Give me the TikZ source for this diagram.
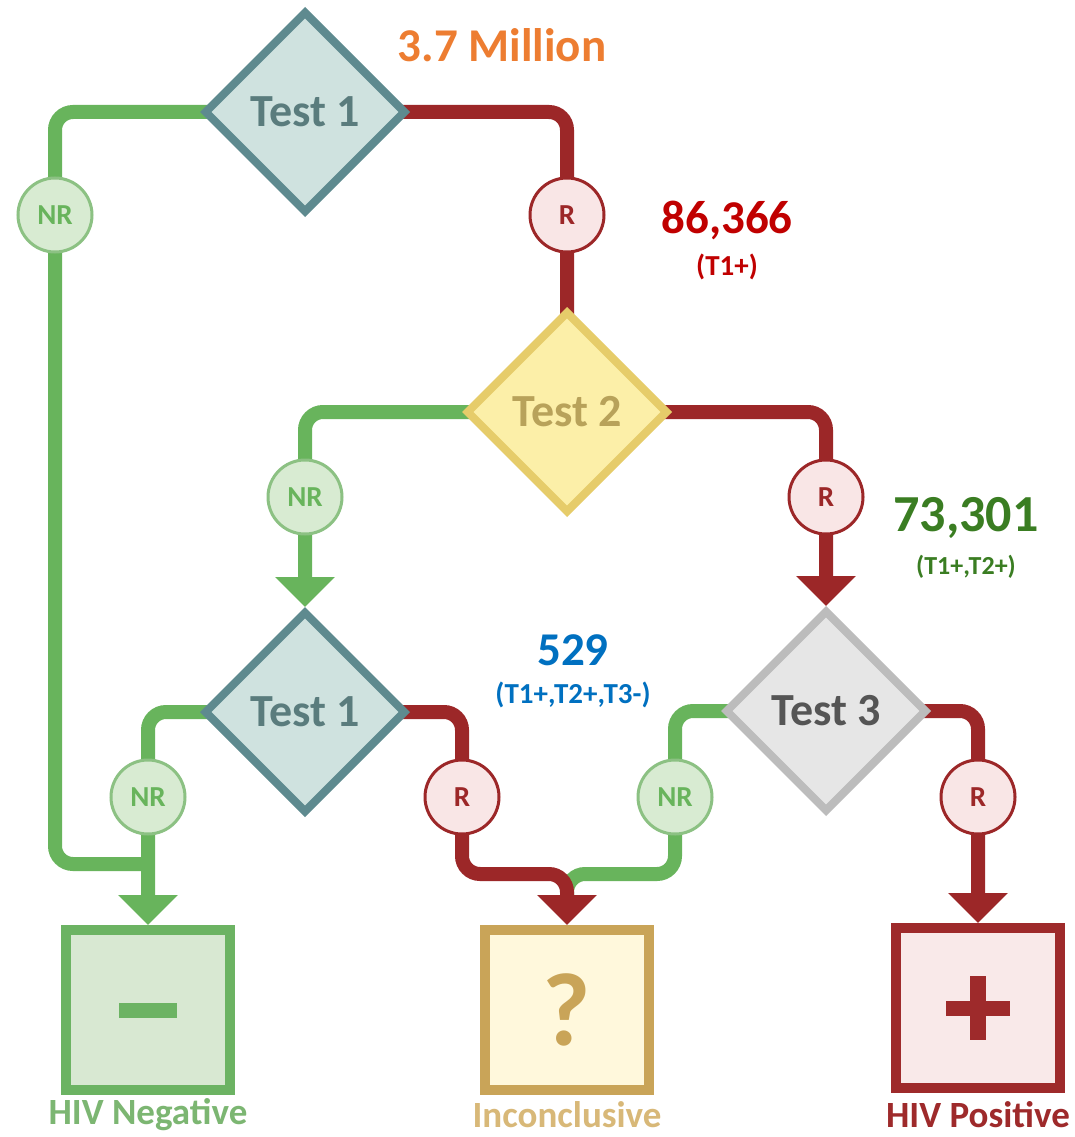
\documentclass[tikz,border=0pt]{standalone}
\usepackage{fontspec}
\setmainfont{Carlito}
\usepackage{tikz}
\usetikzlibrary{arrows.meta}
\usetikzlibrary{shapes.geometric}
\usetikzlibrary{backgrounds}

\definecolor{nrgreen}{HTML}{68B45C}
\definecolor{nrfill}{HTML}{D8EBD2}
\definecolor{nrborder}{HTML}{8CC183}
\definecolor{rred}{HTML}{9C2728}
\definecolor{rfill}{HTML}{F9E6E6}
\definecolor{slatefill}{HTML}{CFE2DF}
\definecolor{slateline}{HTML}{5E8A8F}
\definecolor{slatetext}{HTML}{5A7C7D}
\definecolor{sandfill}{HTML}{FCEFA8}
\definecolor{sandline}{HTML}{E6CC6A}
\definecolor{sandtext}{HTML}{B8A25A}
\definecolor{greyfill}{HTML}{E6E6E6}
\definecolor{greyline}{HTML}{BCBCBC}
\definecolor{greytext}{HTML}{555555}
\definecolor{negfill}{HTML}{D8E8D2}
\definecolor{negline}{HTML}{6CB363}
\definecolor{negtext}{HTML}{7CB672}
\definecolor{incfill}{HTML}{FFF8DC}
\definecolor{incline}{HTML}{C9A458}
\definecolor{inctext}{HTML}{D8B878}
\definecolor{posfill}{HTML}{F9E9E9}
\definecolor{posline}{HTML}{9E2A2B}
\definecolor{orangenum}{HTML}{ED7D31}
\definecolor{rednum}{HTML}{C00000}
\definecolor{greennum}{HTML}{3A7D22}
\definecolor{bluenum}{HTML}{0070C0}

\tikzset{
  testbox/.style={diamond, aspect=1, minimum width=202pt, minimum height=202pt,
    inner sep=0pt, line width=8pt, font=\bfseries\fontsize{46}{50}\selectfont},
  nrdot/.style={circle, minimum size=74pt, inner sep=0pt, line width=3pt,
    draw=nrborder, fill=nrfill, text=nrgreen, font=\bfseries\fontsize{29}{32}\selectfont},
  rdot/.style={circle, minimum size=74pt, inner sep=0pt, line width=3pt,
    draw=rred, fill=rfill, text=rred, font=\bfseries\fontsize{29}{32}\selectfont},
  endbox/.style={rectangle, minimum width=164pt, minimum height=160pt,
    inner sep=0pt, line width=10pt},
  nrline/.style={nrgreen, line width=14pt, rounded corners=18pt},
  rline/.style={rred, line width=14pt, rounded corners=18pt},
  tip/.style={-{Triangle[width=58pt,length=30pt]}},
  endlabel/.style={font=\bfseries\fontsize{37}{40}\selectfont},
  bignum/.style={font=\bfseries\fontsize{47}{50}\selectfont},
  smallnum/.style={font=\bfseries\fontsize{29}{32}\selectfont}
}

\begin{document}
\begin{tikzpicture}[x=1pt, y=-1pt]
  \useasboundingbox (0,0) rectangle (1074,1137);

  % tests
  \node[testbox, draw=slateline, fill=slatefill, text=slatetext] (t1) at (305,112) {Test 1};
  \node[testbox, draw=sandline, fill=sandfill, text=sandtext] (t2) at (567,412) {Test 2};
  \node[testbox, draw=slateline, fill=slatefill, text=slatetext] (t1b) at (305,712) {Test 1};
  \node[testbox, draw=greyline, fill=greyfill, text=greytext] (t3) at (826,711) {Test 3};

  % results on the branches
  \node[nrdot] (nr1) at (55,215) {NR};
  \node[rdot] (r1) at (567,215) {R};
  \node[nrdot] (nr2) at (305,497) {NR};
  \node[rdot] (r2) at (826,497) {R};
  \node[nrdot] (nr3) at (148,797) {NR};
  \node[rdot] (r3) at (462,797) {R};
  \node[nrdot] (nr4) at (675,797) {NR};
  \node[rdot] (r4) at (978,797) {R};

  % outcomes
  \node[endbox, draw=negline, fill=negfill] (neg) at (148,1010) {};
  \node[endbox, draw=incline, fill=incfill, text=incline,
    font=\bfseries\fontsize{104}{104}\selectfont] (inc) at (567,1010) {?};
  \node[endbox, draw=posline, fill=posfill] (pos) at (978,1008) {};
  \fill[negline] (neg.center) ++(-29,-7) rectangle ++(58,15);
  \fill[posline] (pos.center) ++(-32,-7.5) rectangle ++(64,15);
  \fill[posline] (pos.center) ++(-8,-32) rectangle ++(16,64);

  \node[endlabel, text=negtext] (neglabel) at (148,1115) {HIV Negative};
  \node[endlabel, text=inctext] (inclabel) at (567,1115) {Inconclusive};
  \node[endlabel, text=posline] (poslabel) at (978,1115) {HIV Positive};

  % counts
  \node[bignum, text=orangenum] (total) at (502,45) {3.7 Million};
  \node[bignum, text=rednum] (cnt1) at (727,220) {86,366};
  \node[smallnum, text=rednum] (cnt1sub) at (727,267) {(T1+)};
  \node[bignum, text=greennum, font=\bfseries\fontsize{52}{56}\selectfont] (cnt2) at (966,518) {73,301};
  \node[smallnum, text=greennum, font=\bfseries\fontsize{26}{30}\selectfont] (cnt2sub) at (966,567) {(T1+,T2+)};
  \node[bignum, text=bluenum] (cnt3) at (573,650) {529};
  \node[smallnum, text=bluenum] (cnt3sub) at (573,695) {(T1+,T2+,T3-)};

  \coordinate (negjoin) at (148,864);
  \coordinate (incjoin) at (567,874);
  \coordinate (incdrop) at (567,898);

  \begin{pgfonlayer}{background}
    \fill[white] (0,0) rectangle (1074,1137);
    \draw[nrline] (t1.center) -| (nr1.center) |- (negjoin);
    \draw[rline] (t1.center) -| (r1.center) -- (t2.center);
    \draw[nrline, tip] (t2.center) -| (nr2.center) -- (t1b.north);
    \draw[rline, tip] (t2.center) -| (r2.center) -- (t3.north);
    \draw[nrline, tip] (t1b.center) -| (nr3.center) -- (neg.north);
    \draw[nrline] (t3.center) -| (nr4.center) |- (incjoin) -- (incdrop);
    \draw[rline, tip] (t1b.center) -| (r3.center) |- (incjoin) -- (inc.north);
    \draw[rline, tip] (t3.center) -| (r4.center) -- (pos.north);
  \end{pgfonlayer}
\end{tikzpicture}
\end{document}
